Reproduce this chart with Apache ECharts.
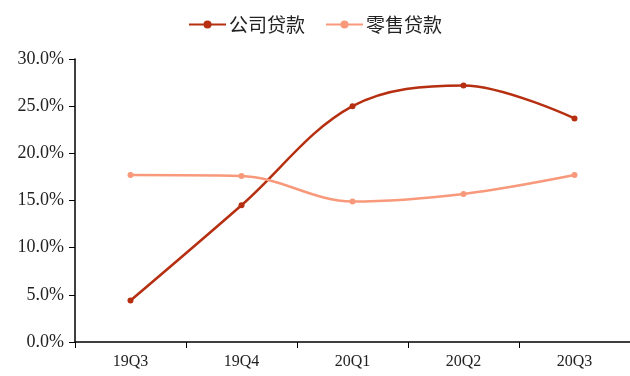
<!DOCTYPE html>
<html><head><meta charset="utf-8">
<script src="https://cdn.jsdelivr.net/npm/echarts@6/dist/echarts.min.js"></script>
<style>html,body{margin:0;padding:0;background:#fff}#c{width:630px;height:376px}</style>
</head><body><div id="c"></div>
<script>
const categories = ['19Q3','19Q4','20Q1','20Q2','20Q3'];
const corporateLoans = [4.4, 14.5, 25.0, 27.2, 23.7];
const retailLoans = [17.7, 17.6, 14.9, 15.7, 17.7];
const seriesNames = ['公司贷款','零售贷款'];

const chart = echarts.init(document.getElementById('c'));
const font = '"Times New Roman","Liberation Serif",serif';
chart.setOption({
  animation:false,
  legend:{top:10,left:'center',itemWidth:37,itemHeight:10,itemGap:20,
    textStyle:{fontFamily:'"Noto Sans CJK SC",sans-serif',fontSize:19,color:'#222',padding:[0,0,0,-2]},
    data:seriesNames},
  grid:{left:75,right:0,top:59,bottom:34},
  xAxis:{type:'category',data:categories,boundaryGap:true,
    axisLine:{lineStyle:{color:'#000',width:1.5}},
    axisTick:{show:true,length:6,lineStyle:{color:'#000'}},
    axisLabel:{fontFamily:font,fontSize:16,color:'#222',margin:12}},
  yAxis:{type:'value',min:0,max:30,interval:5,
    axisLine:{show:true,lineStyle:{color:'#000',width:1.5}},
    axisTick:{show:true,length:6,lineStyle:{color:'#000'}},
    splitLine:{show:false},
    axisLabel:{fontFamily:font,fontSize:18,color:'#222',margin:11,formatter:v=>v.toFixed(1)+'%'}},
  series:[
    {name:seriesNames[0],type:'line',data:corporateLoans,smooth:0.35,symbol:'circle',symbolSize:6,
      itemStyle:{color:'#B52F10'},lineStyle:{width:2.5,color:'#B52F10'}},
    {name:seriesNames[1],type:'line',data:retailLoans,smooth:0.35,symbol:'circle',symbolSize:6,
      itemStyle:{color:'#F8997B'},lineStyle:{width:2.5,color:'#F8997B'}}
  ]
});
</script></body></html>
